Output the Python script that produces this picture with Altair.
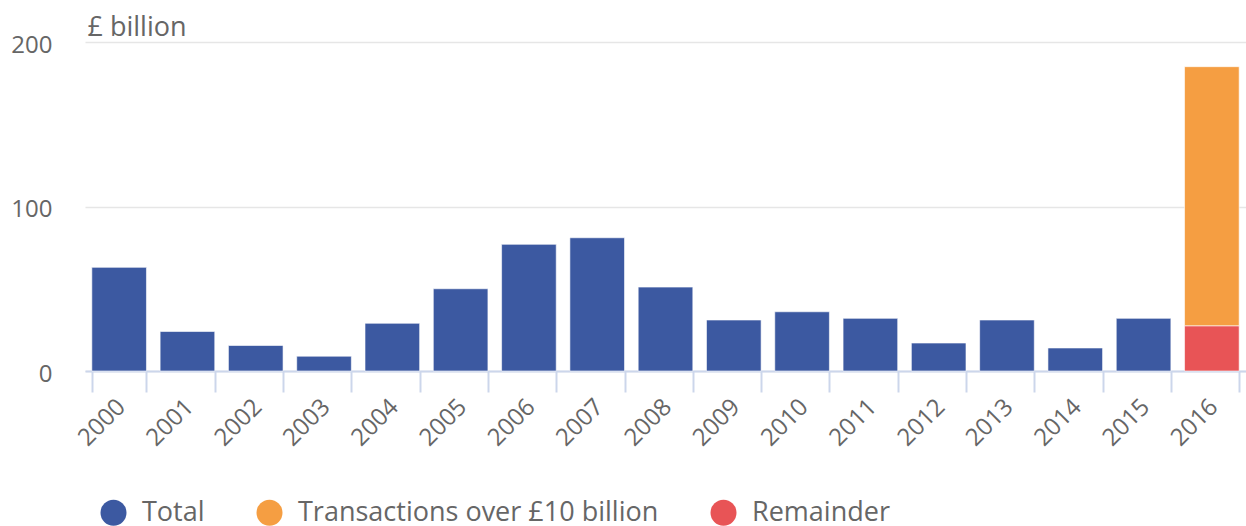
import altair as alt
import pandas as pd

years = [str(y) for y in range(2000, 2017)]
total = [63, 24, 15.5, 9, 29, 50, 77, 81, 51, 31, 36, 32, 17, 31, 14, 32]
big_2016 = 157.5
remainder_2016 = 27.5

series_names = ["Total", "Transactions over £10 billion", "Remainder"]
series_colors = ["#3c59a1", "#f59e42", "#e85456"]

rows = []
for y, v in zip(years[:-1], total):
    rows.append({"year": y, "series": "Total", "value": v, "ord": 0})
rows.append({"year": "2016", "series": "Remainder", "value": remainder_2016, "ord": 0})
rows.append({"year": "2016", "series": "Transactions over £10 billion", "value": big_2016, "ord": 1})
df = pd.DataFrame(rows)

FONT = "Open Sans"
GREY = "#666666"

chart = alt.Chart(df).mark_bar(stroke="#ffffff", strokeWidth=0.6).encode(
    x=alt.X("year:N", sort=years,
            scale=alt.Scale(paddingInner=0.2, paddingOuter=0.1),
            axis=alt.Axis(title=None, labelAngle=-45, labelAlign="right", labelBaseline="middle",
                          labelFont=FONT, labelFontSize=24, labelColor=GREY, labelPadding=11,
                          labelOffset=2,
                          tickBand="extent", tickSize=21, tickWidth=2, tickColor="#ccd6eb",
                          domainColor="#ccd6eb", domainWidth=2, grid=False)),
    y=alt.Y("value:Q", stack="zero",
            scale=alt.Scale(domain=[0, 200], nice=False),
            axis=alt.Axis(values=[0, 100, 200], title="£ billion", titleAngle=0,
                          titleX=2, titleY=-7, titleAlign="left", titleBaseline="alphabetic",
                          titleFont=FONT, titleFontSize=27, titleFontWeight="normal", titleColor=GREY,
                          labelFont=FONT, labelFontSize=24, labelColor=GREY, labelPadding=33,
                          labelOffset=3,
                          ticks=False, domain=False, gridColor="#e6e6e6", gridWidth=1.5)),
    color=alt.Color("series:N",
                    scale=alt.Scale(domain=series_names, range=series_colors),
                    legend=alt.Legend(title=None, orient="none", direction="horizontal",
                                      legendX=15, legendY=457, symbolType="circle",
                                      symbolSize=676, symbolStrokeWidth=0, labelFont=FONT,
                                      labelFontSize=27, labelColor=GREY, labelOffset=15,
                                      columnPadding=51, labelLimit=600)),
    order=alt.Order("ord:Q"),
).properties(
    width=1161, height=329,
    autosize=alt.AutoSizeParams(type="none"),
    padding={"left": 85, "top": 42, "right": 0, "bottom": 155},
).configure_view(stroke=None)

chart.save("out.html", embed_options={"renderer": "svg", "actions": False})
